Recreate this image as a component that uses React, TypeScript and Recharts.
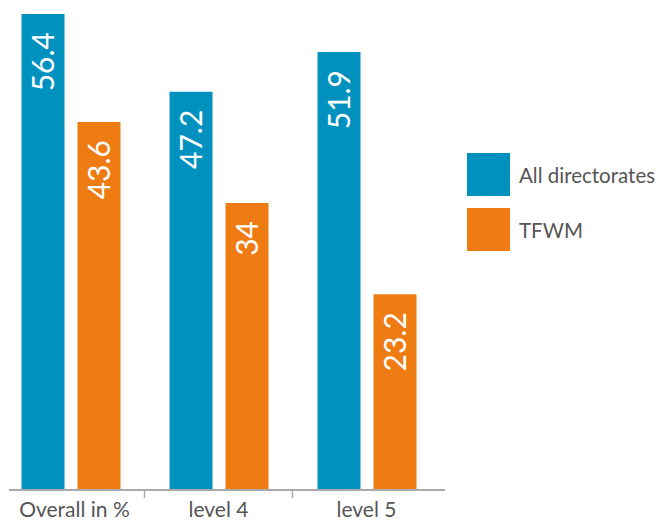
import React from 'react';
import { BarChart, Bar, XAxis, YAxis, Legend, LabelList } from 'recharts';

const categories = ['Overall in %', 'level 4', 'level 5'];
const allDirectorates = [56.4, 47.2, 51.9];
const tfwm = [43.6, 34, 23.2];

const seriesNames = ['All directorates', 'TFWM'];
const colors = ['#0091bf', '#ef7c13'];

const data = categories.map((c, i) => ({
  name: c,
  all: allDirectorates[i],
  tfwm: tfwm[i]
}));

const FONT = 'Lato, "Open Sans", sans-serif';
const BAND = 148;

const ValueLabel = (props: any) => {
  const { x, y, width, value } = props;
  const cx = x + width / 2 + 11;
  const ty = y + 18;
  return (
    <text
      transform={`translate(${cx}, ${ty}) rotate(-90)`}
      textAnchor="end"
      fill="#ffffff"
      fontSize={30}
      fontFamily={FONT}
    >
      {value}
    </text>
  );
};

const CategoryTick = (props: any) => {
  const { x, y, payload, index } = props;
  return (
    <g>
      {index > 0 && (
        <line x1={x - BAND / 2} x2={x - BAND / 2} y1={y} y2={y + 8} stroke="#aaaaaa" strokeWidth={1.5} />
      )}
      <text x={x + (index === 0 ? 4 : 0)} y={y + 27} textAnchor="middle" fill="#555555" fontSize={21} fontFamily={FONT}>
        {payload.value}
      </text>
    </g>
  );
};

const LegendBox = () => (
  <div style={{ fontFamily: FONT }}>
    {seriesNames.map((n, i) => (
      <div key={n} style={{ display: 'flex', alignItems: 'center', height: 43, marginBottom: 12 }}>
        <div style={{ width: 43, height: 43, background: colors[i] }} />
        <span style={{ marginLeft: 9, fontSize: 20.5, color: '#555555', whiteSpace: 'nowrap' }}>{n}</span>
      </div>
    ))}
  </div>
);

export default function App() {
  return (
    <BarChart
      width={660}
      height={515}
      data={data}
      margin={{ top: 6, right: 223, bottom: 0, left: 1 }}
      barSize={43}
      barGap={13}
    >
      <XAxis
        dataKey="name"
        height={33}
        tickSize={0}
        tickMargin={0}
        tickLine={false}
        interval={0}
        padding={{ left: -12.5, right: 4.5 }}
        axisLine={{ stroke: '#aaaaaa', strokeWidth: 2 }}
        tick={<CategoryTick />}
      />
      <YAxis hide domain={[0, 56.4]} />
      <Legend
        layout="horizontal"
        verticalAlign="middle"
        align="center"
        content={<LegendBox />}
        wrapperStyle={{ position: 'absolute', left: 459, top: 145, width: 200 }}
      />
      <Bar dataKey="all" name={seriesNames[0]} fill={colors[0]} isAnimationActive={false}>
        <LabelList dataKey="all" content={<ValueLabel />} />
      </Bar>
      <Bar dataKey="tfwm" name={seriesNames[1]} fill={colors[1]} isAnimationActive={false}>
        <LabelList dataKey="tfwm" content={<ValueLabel />} />
      </Bar>
    </BarChart>
  );
}
